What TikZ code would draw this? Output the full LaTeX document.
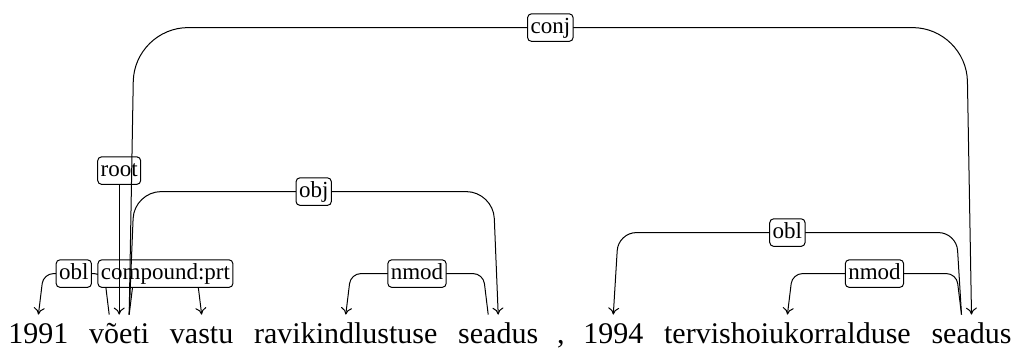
\documentclass[tikz,border=0pt]{standalone}
\usepackage{fontspec}
\setmainfont{Liberation Serif}
\newfontfamily\timesfont{Liberation Serif}
\usetikzlibrary{calc,arrows.meta}
\begin{document}
\begin{tikzpicture}[x=0.5pt,y=-0.5pt,
  word/.style={anchor=base west, inner sep=0pt, text height=14.5pt, text depth=0pt,
    font=\timesfont\fontsize{15}{18}\selectfont},
  depline/.style={draw, line width=0.5pt, -{To[length=3.5pt,width=5.5pt]}},
  deplabel/.style={draw, fill=white, rounded corners=2pt, inner sep=1.5pt,
    text height=8.2pt, text depth=2.6pt, line width=0.5pt,
    font=\timesfont\fontsize{11.5}{12}\selectfont},
]
\useasboundingbox (0,0) rectangle (1022,351);

% sentence
\node[word] (w1) at (8,344) {1991};
\node[word] (w2) at ([xshift=10pt]w1.base east) {võeti};
\node[word] (w3) at ([xshift=10pt]w2.base east) {vastu};
\node[word] (w4) at ([xshift=10pt]w3.base east) {ravikindlustuse};
\node[word] (w5) at ([xshift=10pt]w4.base east) {seadus};
\node[word] (w6) at ([xshift=9pt]w5.base east) {,};
\node[word] (w7) at ([xshift=9pt]w6.base east) {1994};
\node[word] (w8) at ([xshift=10pt]w7.base east) {tervishoiukorralduse};
\node[word] (w9) at ([xshift=10pt]w8.base east) {seadus};

% one-word arcs
\draw[depline, rounded corners=5pt] ($(w2.north)+(-10,0)$) -- ($(w2.north)+(-15,-41)$)
  -- node[deplabel] {obl} ($(w1.north)+(5,-41)$) -- (w1.north);
\draw[depline, rounded corners=5pt] ($(w2.north)+(10,0)$) -- ($(w2.north)+(15,-41)$)
  -- node[deplabel] {compound:prt} ($(w3.north)+(-5,-41)$) -- (w3.north);
\draw[depline, rounded corners=5pt] ($(w5.north)+(-10,0)$) -- ($(w5.north)+(-15,-41)$)
  -- node[deplabel] {nmod} ($(w4.north)+(5,-41)$) -- (w4.north);
\draw[depline, rounded corners=5pt] ($(w9.north)+(-10,0)$) -- ($(w9.north)+(-15,-41)$)
  -- node[deplabel] {nmod} ($(w8.north)+(5,-41)$) -- (w8.north);

% two-word arc
\draw[depline, rounded corners=9pt] ($(w9.north)+(-10,0)$) -- ($(w9.north)+(-15,-82)$)
  -- node[deplabel] {obl} ($(w7.north)+(5,-82)$) -- (w7.north);

% root
\node[deplabel] (rootl) at ($(w2.north)+(0,-144)$) {root};
\draw[depline] (rootl) -- (w2.north);

% long arcs
\draw[depline, rounded corners=13.5pt] ($(w2.north)+(10,0)$) -- ($(w2.north)+(15,-123)$)
  -- node[deplabel] {obj} ($(w5.north)+(-5,-123)$) -- (w5.north);
\draw[depline, rounded corners=27pt] ($(w2.north)+(10,0)$) -- ($(w2.north)+(15,-287)$)
  -- node[deplabel] {conj} ($(w9.north)+(-5,-287)$) -- (w9.north);
\end{tikzpicture}
\end{document}
